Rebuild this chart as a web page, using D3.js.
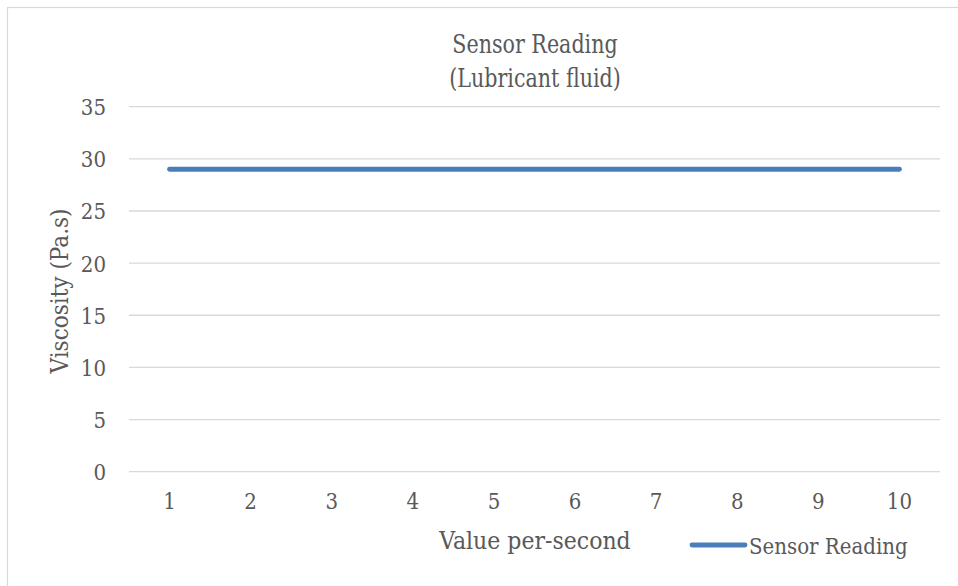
<!DOCTYPE html>
<html>
<head>
<meta charset="utf-8">
<script src="https://cdn.jsdelivr.net/npm/d3@7"></script>
<style>
  html, body { margin: 0; padding: 0; background: #fff; }
  svg { display: block; }
  text { font-family: "DejaVu Serif Condensed", "DejaVu Serif", serif; font-stretch: condensed; fill: #595959; }
</style>
</head>
<body>
<svg id="chart" width="958" height="586"></svg>
<script>
const categories = [1, 2, 3, 4, 5, 6, 7, 8, 9, 10];
const sensorReading = [29, 29, 29, 29, 29, 29, 29, 29, 29, 29];
const yTicks = [0, 5, 10, 15, 20, 25, 30, 35];
const titleLines = ["Sensor Reading", "(Lubricant fluid)"];
const xTitle = "Value per-second";
const yTitle = "Viscosity (Pa.s)";
const seriesName = "Sensor Reading";

const svg = d3.select("#chart");
const W = 958, H = 586;
const plot = { left: 129, right: 940, top: 106.7, bottom: 471.7 };

// outer chart border (only left/top visible in the crop)
svg.append("rect")
  .attr("x", 7.5).attr("y", 7.5)
  .attr("width", W + 20).attr("height", H + 20)
  .attr("fill", "none").attr("stroke", "#d9d9d9").attr("stroke-width", 1.2);

const x = d3.scaleBand().domain(categories).range([plot.left, plot.right]);
const y = d3.scaleLinear().domain([0, 35]).range([plot.bottom, plot.top]);

// gridlines
svg.append("g").selectAll("line").data(yTicks).join("line")
  .attr("x1", plot.left).attr("x2", plot.right)
  .attr("y1", d => y(d)).attr("y2", d => y(d))
  .attr("stroke", "#d9d9d9").attr("stroke-width", 1.3);

// y axis labels
const yAxis = d3.axisLeft(y).tickValues(yTicks).tickSize(0).tickPadding(0);
const yg = svg.append("g").attr("transform", `translate(${106},0)`).call(yAxis);
yg.select(".domain").remove();
yg.selectAll("text").attr("font-size", 22).attr("font-family", null).attr("fill", "#595959").attr("dy", "0.36em");

// x axis labels
const xAxis = d3.axisBottom(x).tickSize(0).tickPadding(0);
const xg = svg.append("g").attr("transform", `translate(0,${501.5})`).call(xAxis);
xg.select(".domain").remove();
xg.selectAll("text").attr("font-size", 22).attr("font-family", null).attr("fill", "#595959").attr("dy", "0.36em");

// line
const line = d3.line()
  .x((d, i) => x(categories[i]) + x.bandwidth() / 2)
  .y(d => y(d));
svg.append("path").datum(sensorReading)
  .attr("d", line)
  .attr("fill", "none").attr("stroke", "#4a7ebb")
  .attr("stroke-width", 4.8).attr("stroke-linecap", "round").attr("stroke-linejoin", "round");

// title (slightly narrowed, as in the reference)
svg.append("g").attr("transform", "translate(535,0) scale(0.9,1)")
  .selectAll("text").data(titleLines).join("text")
  .attr("x", 0).attr("y", (d, i) => 44 + i * 34)
  .attr("dy", "0.36em")
  .attr("text-anchor", "middle").attr("font-size", 25.5)
  .text(d => d);

// axis titles
svg.append("text").attr("x", 535).attr("y", 540).attr("dy", "0.36em")
  .attr("text-anchor", "middle").attr("font-size", 24.5).text(xTitle);
svg.append("text").attr("transform", "translate(59,291) rotate(-90)").attr("dy", "0.36em")
  .attr("text-anchor", "middle").attr("font-size", 24).text(yTitle);

// legend
const lg = svg.append("g");
lg.append("line").attr("x1", 692).attr("x2", 745).attr("y1", 545).attr("y2", 545)
  .attr("stroke", "#4a7ebb").attr("stroke-width", 4.8).attr("stroke-linecap", "round");
lg.append("text").attr("x", 749).attr("y", 546).attr("dy", "0.36em")
  .attr("font-size", 22).text(seriesName);
</script>
</body>
</html>
